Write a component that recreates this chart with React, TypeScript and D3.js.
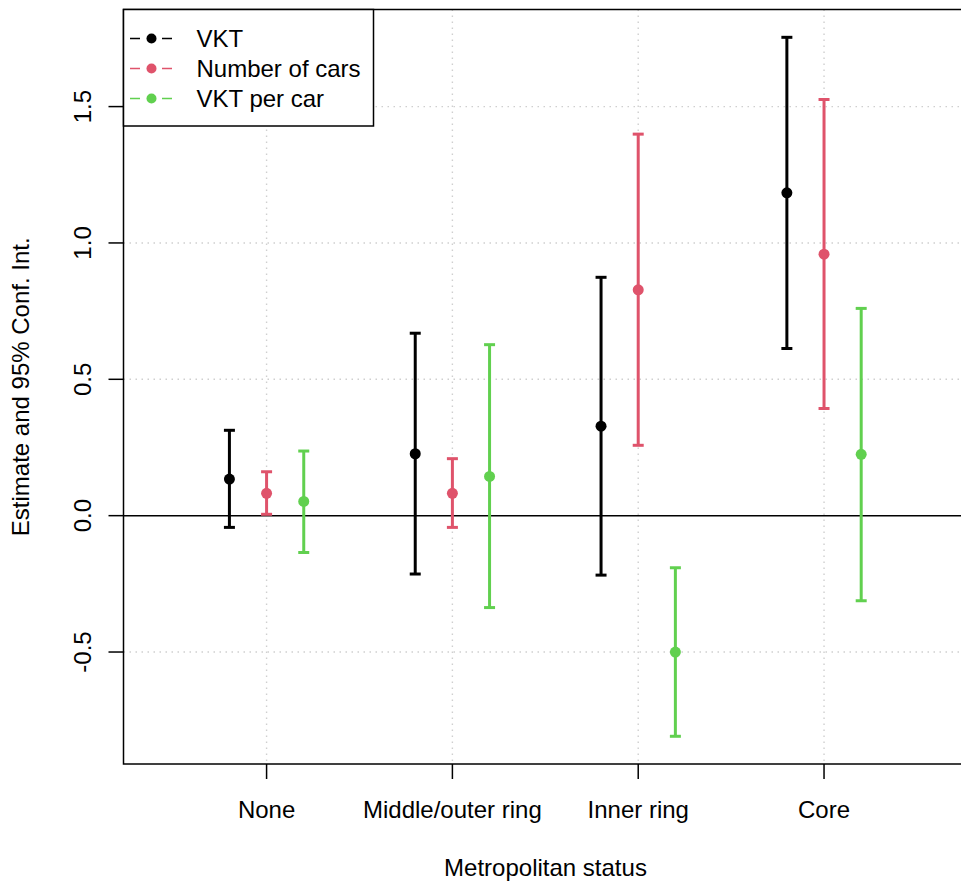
import * as d3 from "d3";

const categories = ["None", "Middle/outer ring", "Inner ring", "Core"];
const seriesNames = ["VKT", "Number of cars", "VKT per car"];
const seriesColors = ["#000000", "#DF536B", "#61D04F"];

// estimate, lower and upper bound per category
const vktEst = [0.134, 0.227, 0.328, 1.184];
const vktLow = [-0.043, -0.214, -0.218, 0.613];
const vktHigh = [0.313, 0.669, 0.874, 1.754];
const carsEst = [0.082, 0.082, 0.828, 0.959];
const carsLow = [0.005, -0.043, 0.258, 0.393];
const carsHigh = [0.161, 0.209, 1.399, 1.526];
const perCarEst = [0.052, 0.144, -0.5, 0.225];
const perCarLow = [-0.135, -0.337, -0.809, -0.312];
const perCarHigh = [0.237, 0.627, -0.191, 0.76];

const yTicks = [-0.5, 0, 0.5, 1.0, 1.5];
const yTickLabels = ["-0.5", "0.0", "0.5", "1.0", "1.5"];
const seriesOffsets = [-0.2, 0, 0.2];

const W = 961;
const H = 884;
const left = 123.5;
const right = 966;
const top = 9.5;
const bottom = 764;
const font = "'Liberation Sans', Arial, Helvetica, sans-serif";

export default function App() {
  const x = d3.scaleLinear().domain([-0.77, 3.764]).range([left, right]);
  const y = d3.scaleLinear().domain([-0.9106, 1.856]).range([bottom, top]);

  const series = [
    { est: vktEst, low: vktLow, high: vktHigh },
    { est: carsEst, low: carsLow, high: carsHigh },
    { est: perCarEst, low: perCarLow, high: perCarHigh },
  ];

  const capW = 5.5;

  return (
    <svg
      width={W}
      height={H}
      style={{ position: "absolute", left: 0, top: 0, background: "#fff" }}
      fontFamily={font}
    >
      <rect x={0} y={0} width={W} height={H} fill="#fff" />

      {/* grid */}
      {categories.map((c, i) => (
        <line
          key={"gv" + c}
          x1={x(i)}
          x2={x(i)}
          y1={top}
          y2={bottom}
          stroke="#CFCFCF"
          strokeWidth={1.4}
          strokeDasharray="1.5 4.5"
        />
      ))}
      {yTicks
        .filter((t) => t !== 0)
        .map((t) => (
          <line
            key={"gh" + t}
            x1={left}
            x2={right}
            y1={y(t)}
            y2={y(t)}
            stroke="#CFCFCF"
            strokeWidth={1.4}
            strokeDasharray="1.5 4.5"
          />
        ))}
      <line x1={left} x2={right} y1={y(0)} y2={y(0)} stroke="#000" strokeWidth={1.5} />

      {/* error bars */}
      {series.map((s, k) =>
        categories.map((c, i) => {
          const cx = x(i + seriesOffsets[k]);
          return (
            <g key={k + "-" + c} stroke={seriesColors[k]} strokeWidth={3}>
              <line x1={cx} x2={cx} y1={y(s.low[i])} y2={y(s.high[i])} />
              <line x1={cx - capW} x2={cx + capW} y1={y(s.low[i])} y2={y(s.low[i])} />
              <line x1={cx - capW} x2={cx + capW} y1={y(s.high[i])} y2={y(s.high[i])} />
              <circle cx={cx} cy={y(s.est[i])} r={5.5} fill={seriesColors[k]} stroke="none" />
            </g>
          );
        })
      )}

      {/* frame */}
      <rect
        x={left}
        y={top}
        width={right - left}
        height={bottom - top}
        fill="none"
        stroke="#000"
        strokeWidth={1.5}
      />

      {/* x axis */}
      {categories.map((c, i) => (
        <g key={"xt" + c}>
          <line x1={x(i)} x2={x(i)} y1={bottom} y2={bottom + 15} stroke="#000" strokeWidth={1.5} />
          <text x={x(i)} y={818} textAnchor="middle" fontSize={24}>
            {c}
          </text>
        </g>
      ))}
      <text x={545.5} y={876} textAnchor="middle" fontSize={24}>
        Metropolitan status
      </text>

      {/* y axis */}
      {yTicks.map((t, i) => (
        <g key={"yt" + t}>
          <line x1={left - 15} x2={left} y1={y(t)} y2={y(t)} stroke="#000" strokeWidth={1.5} />
          <text
            transform={`translate(${91},${y(t)}) rotate(-90)`}
            textAnchor="middle"
            fontSize={24}
          >
            {yTickLabels[i]}
          </text>
        </g>
      ))}
      <text
        transform={`translate(${29},${(top + bottom) / 2}) rotate(-90)`}
        textAnchor="middle"
        fontSize={24}
      >
        Estimate and 95% Conf. Int.
      </text>

      {/* legend */}
      <rect x={left} y={top} width={250} height={116.5} fill="#fff" stroke="#000" strokeWidth={1.5} />
      {seriesNames.map((n, k) => {
        const ly = 38.5 + k * 30;
        return (
          <g key={"lg" + n}>
            <line
              x1={130}
              x2={172}
              y1={ly}
              y2={ly}
              stroke={seriesColors[k]}
              strokeWidth={1.3}
              strokeDasharray="10 22 10"
            />
            <circle cx={151.5} cy={ly} r={5} fill={seriesColors[k]} />
            <text x={196.5} y={ly + 8.5} fontSize={24}>
              {n}
            </text>
          </g>
        );
      })}
    </svg>
  );
}
